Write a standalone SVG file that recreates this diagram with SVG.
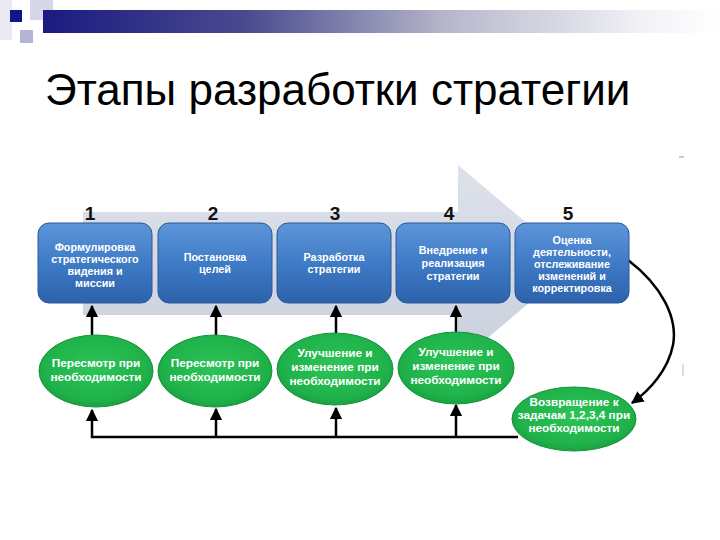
<svg xmlns="http://www.w3.org/2000/svg" width="720" height="540" viewBox="0 0 720 540">
<defs>
<linearGradient id="hdr" x1="0" y1="0" x2="1" y2="0">
<stop offset="0" stop-color="#1a1a80"/>
<stop offset="0.3" stop-color="#4a4a90"/>
<stop offset="0.6" stop-color="#b8b8cc"/>
<stop offset="0.9" stop-color="#f4f4f8"/>
<stop offset="1" stop-color="#ffffff"/>
</linearGradient>
<linearGradient id="blue" x1="0" y1="0" x2="0" y2="1">
<stop offset="0" stop-color="#5d95d8"/>
<stop offset="0.5" stop-color="#3f7bc6"/>
<stop offset="1" stop-color="#2c62ab"/>
</linearGradient>
<radialGradient id="green" cx="0.5" cy="0.45" r="0.6">
<stop offset="0" stop-color="#2cc458"/>
<stop offset="0.75" stop-color="#1fb24a"/>
<stop offset="1" stop-color="#179a3d"/>
</radialGradient>
<linearGradient id="gray" x1="0" y1="0" x2="0" y2="1">
<stop offset="0" stop-color="#dde1ea"/>
<stop offset="1" stop-color="#c9d0dd"/>
</linearGradient>
<marker id="ah" viewBox="0 0 10 10" refX="9" refY="5" markerWidth="5" markerHeight="5" orient="auto-start-reverse">
<path d="M0,0 L10,5 L0,10 z" fill="#000"/>
</marker>
<style>
.box{fill:url(#blue);stroke:#2a5899;stroke-width:1}
.ell{fill:url(#green);stroke:#16913a;stroke-width:1}
.bt{font-family:"Liberation Sans",Arial,sans-serif;font-size:10.8px;font-weight:bold;fill:#ffffff;text-anchor:middle}
.et{font-family:"Liberation Sans",Arial,sans-serif;font-size:11.8px;font-weight:bold;fill:#ffffff;text-anchor:middle}
.num{font-family:"Liberation Sans",Arial,sans-serif;font-size:19px;font-weight:bold;fill:#111;text-anchor:middle}
.ln{stroke:#000;stroke-width:2.5;fill:none}
</style>
</defs>
<rect width="720" height="540" fill="#ffffff"/>
<!-- header decoration -->
<rect x="0" y="0" width="12" height="40" fill="#eaeaf4"/>
<rect x="30" y="0" width="23" height="20" fill="#d6d6ea"/>
<rect x="20" y="30" width="13" height="13" fill="#b4b4d6"/>
<rect x="43" y="10" width="677" height="23" fill="url(#hdr)"/>
<rect x="10" y="10" width="12" height="12" fill="#14148c"/>
<text x="45" y="105" font-family="'Liberation Sans',Arial,sans-serif" font-size="44" fill="#000">Этапы разработки стратегии</text>
<line x1="679" y1="157" x2="684" y2="157" stroke="#999" stroke-width="1"/>
<line x1="683" y1="364" x2="683" y2="376" stroke="#bbb" stroke-width="1"/>
<!-- background arrow -->
<path id="bigarrow" d="M83,212 L458,212 L458,165 L575,264 L458,363 L458,315 L83,315 z" fill="url(#gray)"/>
<!-- connectors -->
<g id="connectors">
<line class="ln" x1="92" y1="335" x2="92" y2="306" marker-end="url(#ah)"/>
<line class="ln" x1="216" y1="335" x2="216" y2="306" marker-end="url(#ah)"/>
<line class="ln" x1="336" y1="334" x2="336" y2="306" marker-end="url(#ah)"/>
<line class="ln" x1="456" y1="334" x2="456" y2="306" marker-end="url(#ah)"/>
<polyline class="ln" points="518,437 92,437 92,410" marker-end="url(#ah)"/>
<line class="ln" x1="216" y1="437" x2="216" y2="409" marker-end="url(#ah)"/>
<line class="ln" x1="336" y1="437" x2="336" y2="408" marker-end="url(#ah)"/>
<line class="ln" x1="456" y1="437" x2="456" y2="405" marker-end="url(#ah)"/>
<path class="ln" d="M628,260 C662,286 678,318 673,345 C668,370 650,390 632,403" marker-end="url(#ah)"/>
</g>
<!-- stage boxes -->
<g id="stage1">
<text class="num" x="90" y="220">1</text>
<rect class="box" x="38" y="223" width="114" height="80" rx="11"/>
<text class="bt" x="95" y="251">Формулировка</text>
<text class="bt" x="95" y="263">стратегического</text>
<text class="bt" x="95" y="275">видения и</text>
<text class="bt" x="95" y="287">миссии</text>
</g>
<g id="stage2">
<text class="num" x="213" y="220">2</text>
<rect class="box" x="158" y="223" width="114" height="80" rx="11"/>
<text class="bt" x="215" y="261">Постановка</text>
<text class="bt" x="215" y="273">целей</text>
</g>
<g id="stage3">
<text class="num" x="335" y="220">3</text>
<rect class="box" x="277" y="223" width="114" height="80" rx="11"/>
<text class="bt" x="334" y="261">Разработка</text>
<text class="bt" x="334" y="273">стратегии</text>
</g>
<g id="stage4">
<text class="num" x="449" y="220">4</text>
<rect class="box" x="396" y="223" width="114" height="80" rx="11"/>
<text class="bt" x="453" y="254">Внедрение и</text>
<text class="bt" x="453" y="267">реализация</text>
<text class="bt" x="453" y="280">стратегии</text>
</g>
<g id="stage5">
<text class="num" x="568" y="220">5</text>
<rect class="box" x="515" y="223" width="114" height="80" rx="11"/>
<text class="bt" x="572" y="244">Оценка</text>
<text class="bt" x="572" y="256">деятельности,</text>
<text class="bt" x="572" y="268">отслеживание</text>
<text class="bt" x="572" y="280">изменений и</text>
<text class="bt" x="572" y="292">корректировка</text>
</g>
<!-- ellipses -->
<g id="review1">
<ellipse class="ell" cx="96" cy="371" rx="57" ry="36"/>
<text class="et" x="96" y="367">Пересмотр при</text>
<text class="et" x="96" y="381">необходимости</text>
</g>
<g id="review2">
<ellipse class="ell" cx="215" cy="371" rx="57" ry="36"/>
<text class="et" x="215" y="367">Пересмотр при</text>
<text class="et" x="215" y="381">необходимости</text>
</g>
<g id="improve3">
<ellipse class="ell" cx="335" cy="369" rx="58" ry="36"/>
<text class="et" x="335" y="357">Улучшение и</text>
<text class="et" x="335" y="371">изменение при</text>
<text class="et" x="335" y="385">необходимости</text>
</g>
<g id="improve4">
<ellipse class="ell" cx="456" cy="368" rx="58" ry="36"/>
<text class="et" x="456" y="356">Улучшение и</text>
<text class="et" x="456" y="370">изменение при</text>
<text class="et" x="456" y="384">необходимости</text>
</g>
<g id="return5">
<ellipse class="ell" cx="574" cy="419" rx="62" ry="32"/>
<text class="et" x="574" y="406">Возвращение к</text>
<text class="et" x="574" y="419">задачам 1,2,3,4 при</text>
<text class="et" x="574" y="432">необходимости</text>
</g>
</svg>
